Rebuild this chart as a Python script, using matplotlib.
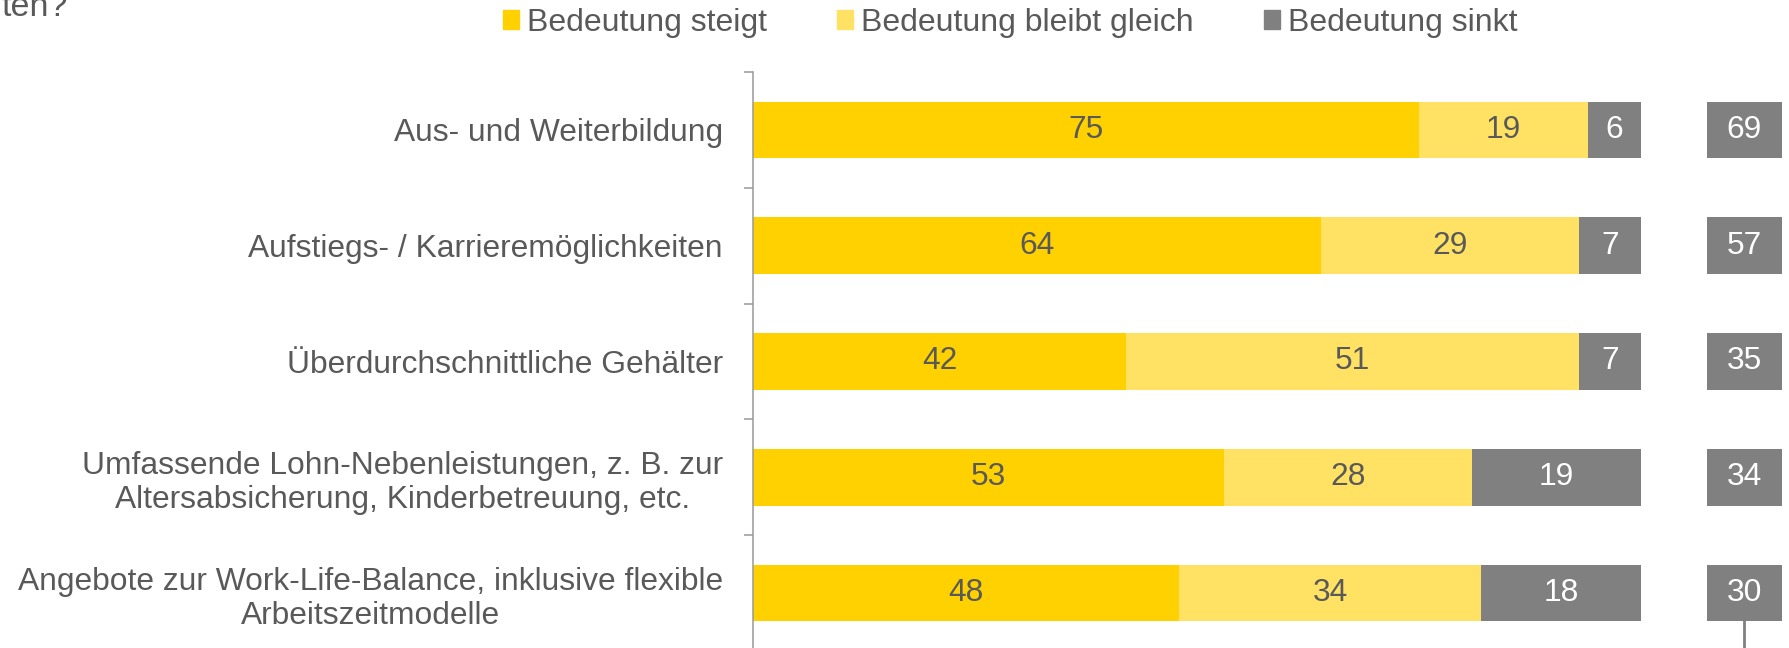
import matplotlib
matplotlib.use("Agg")
import numpy as np
from matplotlib import pyplot as plt
from matplotlib.patches import Patch

CATEGORIES = [
    "Aus- und Weiterbildung",
    "Aufstiegs- / Karrieremöglichkeiten",
    "Überdurchschnittliche Gehälter",
    "Umfassende Lohn-Nebenleistungen, z. B. zur\nAltersabsicherung, Kinderbetreuung, etc.",
    "Angebote zur Work-Life-Balance, inklusive flexible\nArbeitszeitmodelle",
]
STEIGT = [75, 64, 42, 53, 48]
GLEICH = [19, 29, 51, 28, 34]
SINKT = [6, 7, 7, 19, 18]
SALDO = [69, 57, 35, 34, 30]
SERIES = ["Bedeutung steigt", "Bedeutung bleibt gleich", "Bedeutung sinkt"]

YELLOW = "#FFD100"
LIGHT = "#FFE264"
GREY = "#808080"
TEXT = "#595959"
FS = 22.9

plt.rcParams['font.family'] = ['Liberation Sans', 'DejaVu Sans']

fig = plt.figure(figsize=(17.89, 6.48), dpi=100)
ax = fig.add_axes([753 / 1789, -0.0046, 1036 / 1789, 0.8935])

y = np.arange(len(CATEGORIES))
h = 0.49
steigt = np.array(STEIGT)
gleich = np.array(GLEICH)
sinkt = np.array(SINKT)

b1 = ax.barh(y, steigt, height=h, color=YELLOW)
b2 = ax.barh(y, gleich, left=steigt, height=h, color=LIGHT)
b3 = ax.barh(y, sinkt, left=steigt + gleich, height=h, color=GREY)
ax.bar_label(b1, label_type='center', color=TEXT, fontsize=FS)
ax.bar_label(b2, label_type='center', color=TEXT, fontsize=FS)
ax.bar_label(b3, label_type='center', color='white', fontsize=FS)

# saldo boxes on the right
box_left, box_w = 107.43, 8.45
b4 = ax.barh(y, box_w, left=box_left, height=h, color=GREY, clip_on=False)
ax.bar_label(b4, labels=[str(v) for v in SALDO], label_type='center',
             color='white', fontsize=FS)
xc = box_left + box_w / 2
ax.plot([xc, xc], [y[-1] + h / 2, 4.6], color=GREY, lw=2, clip_on=False)

ax.set_xlim(0, 116.67)
ax.set_ylim(4.5, -0.5)
ax.set_xticks([])
ax.set_yticks(y, CATEGORIES)
ax.set_yticks(np.arange(-0.5, 5, 1), minor=True)
ax.tick_params(axis='y', which='major', length=0, pad=21.6,
               labelsize=FS, labelcolor=TEXT)
ax.tick_params(axis='y', which='minor', length=6.5, width=1.1, color='#999999')
for t in ax.get_yticklabels():
    t.set_multialignment('center')

for side in ('top', 'right', 'bottom'):
    ax.spines[side].set_visible(False)
ax.spines['left'].set_color('#999999')
ax.spines['left'].set_linewidth(1.1)

handles = [Patch(color=c) for c in (YELLOW, LIGHT, GREY)]
fig.legend(handles, SERIES, loc='center left', bbox_to_anchor=(503 / 1789, 1 - 22.5 / 648),
           ncol=3, frameon=False, fontsize=23, labelcolor=TEXT,
           handlelength=0.5, handleheight=0.53, handletextpad=0.25,
           columnspacing=2.2, borderpad=0, borderaxespad=0)

fig.text(68 / 1789, 1 - 16 / 648, "ten?", ha='right', va='baseline',
         fontsize=24.5, color=TEXT)

fig.savefig("out.png", dpi=100)
